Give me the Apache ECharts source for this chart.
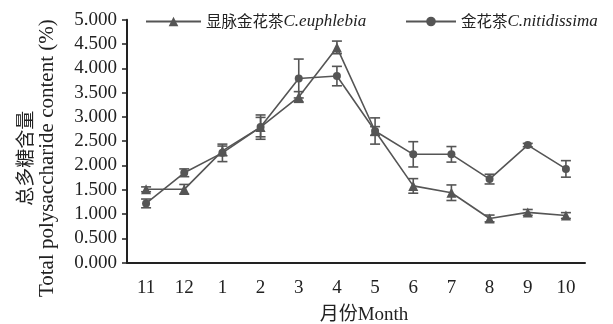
<!DOCTYPE html>
<html><head><meta charset="utf-8">
<script src="https://cdn.jsdelivr.net/npm/echarts@6/dist/echarts.min.js"></script>
<style>html,body{margin:0;padding:0;background:#fff}#c{width:613px;height:324px}</style>
</head><body><div id="c"></div>
<script>
const months = ['11','12','1','2','3','4','5','6','7','8','9','10'];
const yTicks = [0,0.5,1,1.5,2,2.5,3,3.5,4,4.5,5];
const euphlebia = [1.51,1.51,2.30,2.79,3.41,4.43,2.71,1.58,1.44,0.91,1.035,0.97];
const euphlebiaErr = [0.05,0.10,0.10,0.20,0.11,0.13,0.09,0.15,0.16,0.07,0.06,0.06];
const nitidissima = [1.22,1.85,2.26,2.79,3.79,3.84,2.71,2.23,2.23,1.72,2.42,1.93];
const nitidissimaErr = [0.09,0.08,0.18,0.25,0.40,0.20,0.27,0.26,0.16,0.10,0.035,0.17];

const C = '#555555';
const AX = '#222222';
const SERIF = '"Liberation Serif","DejaVu Serif",serif';
const CJK = '"Noto Sans CJK SC",sans-serif';

function errData(vals, errs){ return vals.map((v,i)=>[i, v-errs[i], v+errs[i]]); }
function errRender(params, api){
  const x = api.value(0);
  const lo = api.coord([x, api.value(1)]);
  const hi = api.coord([x, api.value(2)]);
  const w = 5;
  const st = {stroke: C, lineWidth: 1.6};
  return {type:'group', children:[
    {type:'line', shape:{x1:lo[0],y1:lo[1],x2:hi[0],y2:hi[1]}, style:st},
    {type:'line', shape:{x1:lo[0]-w,y1:lo[1],x2:lo[0]+w,y2:lo[1]}, style:st},
    {type:'line', shape:{x1:hi[0]-w,y1:hi[1],x2:hi[0]+w,y2:hi[1]}, style:st}
  ]};
}
const N1 = '显脉金花茶C.euphlebia';
const N2 = '金花茶C.nitidissima';
const legendBase = {
  top: 8, itemHeight: 12, itemGap: 10,
  textStyle: {color:'#222', fontSize:16,
    rich: {cn:{fontFamily:CJK, fontSize:15.5, color:'#222'}, en:{fontFamily:SERIF, fontStyle:'italic', fontSize:17, color:'#222'}}},
  formatter: function(n){ const m = n.match(/^([^A-Za-z]+)(.*)$/); return '{cn|'+m[1]+'}{en|'+m[2]+'}'; }
};
const chart = echarts.init(document.getElementById('c'), null, {renderer:'canvas'});
chart.setOption({
  animation: false,
  backgroundColor: '#fff',
  grid: {left:127, right:28, top:19.7, bottom:61.3, containLabel:false, outerBoundsMode:'none'},
  legend: [
    Object.assign({}, legendBase, {left:140, itemWidth:55, data:[N1]}),
    Object.assign({}, legendBase, {left:400, itemWidth:50, data:[N2]})
  ],
  xAxis: {
    type:'category', data: months, boundaryGap:true,
    name:'月份Month', nameLocation:'middle', nameGap:43,
    nameTextStyle:{color:'#222', fontSize:19, fontFamily:'"Liberation Serif","Noto Sans CJK SC",serif', padding:[0,0,0,16]},
    axisLine:{lineStyle:{color:AX, width:2}},
    axisTick:{alignWithLabel:true, length:5, lineStyle:{color:AX, width:1.5}},
    axisLabel:{color:'#222', fontSize:19, fontFamily:SERIF, margin:16}
  },
  yAxis: {
    type:'value', min:0, max:5, interval:0.5,
    name:'{cn|总多糖含量}\n{en|Total polysaccharide content (%)}', nameLocation:'middle', nameGap:69, nameRotate:90,
    nameTextStyle:{color:'#222', fontSize:20, lineHeight:22, fontFamily:SERIF, padding:[0,34,0,0],
      rich:{cn:{fontFamily:CJK, fontSize:19, lineHeight:22, color:'#222'},
            en:{fontFamily:SERIF, fontSize:21, lineHeight:22, color:'#222'}}},
    axisLine:{show:true, lineStyle:{color:AX, width:2}},
    axisTick:{show:true, length:5, lineStyle:{color:AX, width:1.5}},
    splitLine:{show:false},
    axisLabel:{color:'#222', fontSize:19, fontFamily:SERIF, margin:10, formatter: v => v.toFixed(3)}
  },
  series: [
    {name:N1, type:'line', data:euphlebia, symbol:'triangle', symbolSize:10,
      lineStyle:{color:C, width:1.6}, itemStyle:{color:C}, z:3},
    {name:N2, type:'line', data:nitidissima, symbol:'circle', symbolSize:8,
      lineStyle:{color:C, width:1.6}, itemStyle:{color:C}, z:3},
    {type:'custom', data: errData(euphlebia, euphlebiaErr), renderItem: errRender, z:2, silent:true},
    {type:'custom', data: errData(nitidissima, nitidissimaErr), renderItem: errRender, z:2, silent:true}
  ]
});
</script></body></html>
